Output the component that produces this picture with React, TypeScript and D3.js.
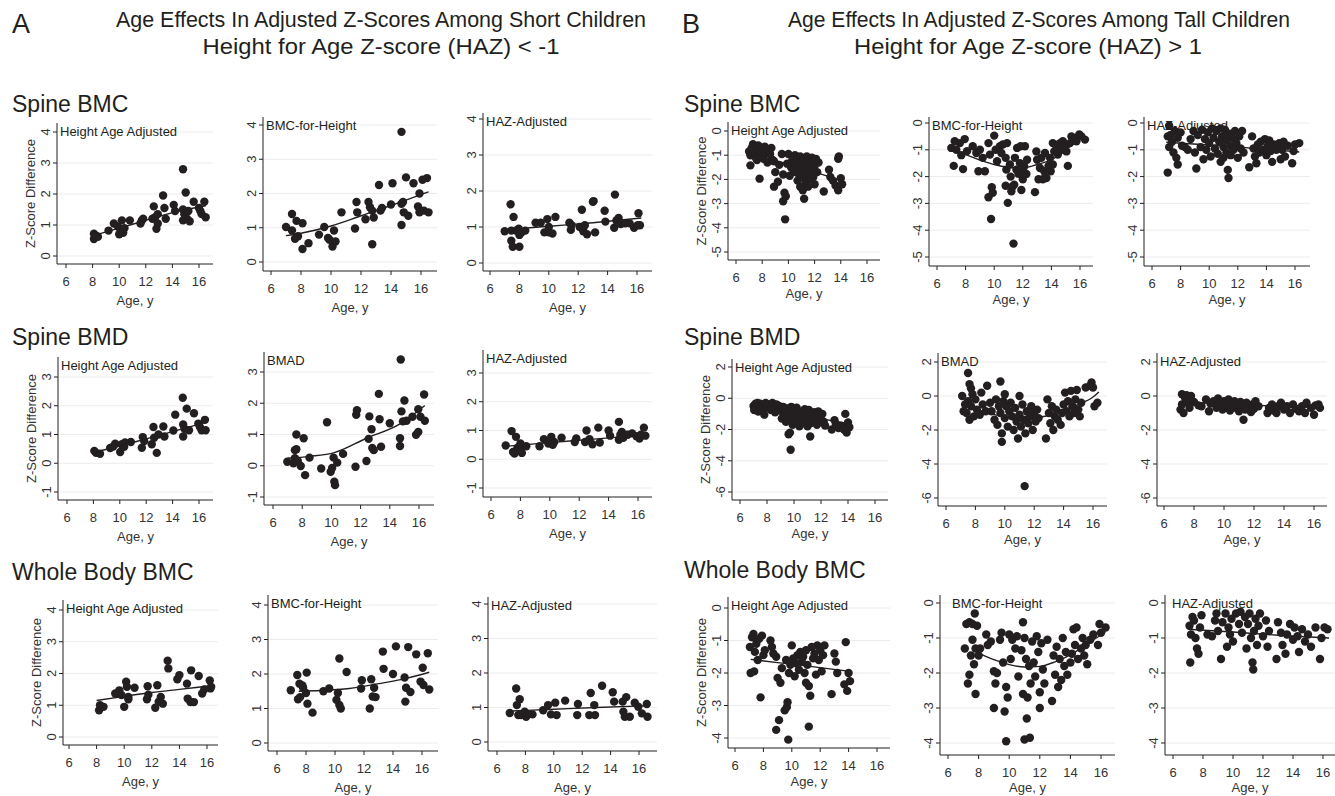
import React from 'react';
import * as d3 from 'd3';

type Pt = [number, number];

// ---------- data ----------
const xTicks = [6, 8, 10, 12, 14, 16];
const ticksShortBmc = [0, 1, 2, 3, 4];
const ticksShortBmd = [-1, 0, 1, 2, 3];
const ticksTallBmc = [-5, -4, -3, -2, -1, 0];
const ticksTallBmd = [-6, -4, -2, 0, 2];
const ticksTallWb = [-4, -3, -2, -1, 0];

const subtitles = ['Height Age Adjusted', 'BMC-for-Height', 'HAZ-Adjusted'];
const subtitlesBmd = ['Height Age Adjusted', 'BMAD', 'HAZ-Adjusted'];
const sectionNames = ['Spine BMC', 'Spine BMD', 'Whole Body BMC'];

// Short children (HAZ < -1)
const shortSpineBmcHeightAge: Pt[] = [
  [8.1, 0.55], [8.1, 0.72], [8.3, 0.65], [8.4, 0.62], [9.2, 0.82], [9.6, 1.05], [9.9, 0.95], [10.0, 0.7],
  [10.1, 0.85], [10.2, 1.15], [10.3, 0.75], [10.4, 0.9], [10.8, 1.15], [11.6, 1.05], [11.7, 1.15], [11.8, 1.2],
  [12.5, 1.2], [12.6, 1.6], [12.7, 1.25], [12.8, 0.88], [12.9, 1.05], [12.9, 1.35], [13.3, 1.95], [13.4, 1.55],
  [13.5, 1.2], [14.1, 1.65], [14.2, 1.45], [14.8, 2.8], [14.8, 1.5], [14.8, 1.15], [14.9, 1.35], [15.0, 2.05],
  [15.1, 1.2], [15.2, 1.45], [15.3, 1.12], [15.6, 1.75], [16.0, 1.55], [16.1, 1.45], [16.2, 1.35], [16.4, 1.75],
  [16.5, 1.25],
];
const shortSpineBmcForHeight: Pt[] = [
  [7.0, 1.02], [7.4, 1.4], [7.4, 0.92], [7.6, 0.68], [7.7, 1.2], [7.8, 0.75], [8.1, 1.13], [8.1, 0.38],
  [8.5, 0.55], [9.2, 0.8], [9.55, 1.02], [9.8, 0.7], [9.9, 0.65], [10.1, 0.45], [10.2, 0.92], [10.3, 0.6],
  [10.7, 1.45], [11.6, 0.98], [11.7, 1.75], [11.75, 1.45], [12.3, 1.25], [12.5, 1.75], [12.6, 1.6], [12.75, 1.5],
  [12.75, 0.52], [12.85, 1.3], [13.2, 2.25], [13.3, 1.5], [13.4, 1.58], [14.0, 1.68], [14.1, 2.3], [14.7, 3.8],
  [14.7, 1.7], [14.7, 1.08], [14.8, 1.75], [14.85, 1.45], [15.0, 2.47], [15.15, 1.35], [15.5, 2.3], [15.8, 1.62],
  [15.9, 2.0], [15.9, 1.45], [16.1, 2.4], [16.2, 1.5], [16.4, 2.45], [16.5, 1.45],
];
const shortSpineBmcHaz: Pt[] = [
  [7.0, 0.88], [7.4, 1.63], [7.45, 0.9], [7.45, 0.62], [7.55, 0.45], [7.6, 1.28], [7.75, 0.9], [7.95, 0.95],
  [8.0, 0.78], [8.0, 0.45], [8.15, 0.85], [8.4, 0.9], [9.1, 1.12], [9.45, 1.12], [9.7, 0.85], [9.9, 1.22],
  [10.0, 1.0], [10.0, 0.85], [10.25, 0.82], [10.45, 1.28], [11.4, 1.12], [11.5, 0.92], [11.55, 1.05], [12.1, 1.0],
  [12.25, 1.48], [12.35, 0.88], [12.45, 1.05], [12.6, 0.8], [13.0, 1.7], [13.05, 1.72], [13.15, 0.85], [13.8, 1.45],
  [13.85, 1.15], [14.45, 0.98], [14.5, 1.9], [14.6, 1.18], [14.75, 1.25], [14.9, 1.08], [15.2, 1.1], [15.5, 1.1],
  [15.8, 0.98], [16.05, 1.05], [16.1, 1.38], [16.2, 1.05],
];
const shortSpineBmdHeightAge: Pt[] = [
  [8.07, 0.43], [8.2, 0.36], [8.5, 0.33], [9.27, 0.53], [9.5, 0.58], [9.65, 0.68], [10.03, 0.39], [10.15, 0.66],
  [10.33, 0.57], [10.4, 0.72], [10.84, 0.74], [11.67, 0.54], [11.74, 0.91], [11.85, 0.77], [12.42, 0.66], [12.55, 1.26],
  [12.6, 0.89], [12.8, 0.36], [12.93, 1.0], [13.3, 1.28], [13.38, 0.93], [14.06, 1.14], [14.2, 1.69], [14.77, 2.28],
  [14.8, 1.35], [14.8, 0.93], [14.9, 1.2], [15.07, 1.9], [15.24, 1.15], [15.62, 1.74], [15.95, 1.38], [16.07, 1.26],
  [16.2, 1.15], [16.45, 1.51], [16.5, 1.15],
];
const shortSpineBmad: Pt[] = [
  [6.98, 0.13], [7.4, 0.08], [7.5, 0.5], [7.5, 0.24], [7.6, 0.53], [7.6, 1.0], [7.7, 0.15], [7.9, -0.01],
  [8.1, 0.88], [8.2, -0.3], [8.5, 0.26], [9.3, -0.09], [9.7, 1.39], [9.95, -0.19], [10.05, -0.07], [10.15, 0.26],
  [10.2, -0.51], [10.25, -0.62], [10.4, 0.1], [10.8, 0.38], [11.65, -0.03], [11.7, 1.63], [11.75, 1.78], [12.4, 0.15],
  [12.55, 0.86], [12.6, 1.58], [12.75, 1.17], [12.8, 0.57], [12.9, 0.5], [13.25, 2.3], [13.3, 1.49], [13.4, 0.61],
  [14.0, 1.36], [14.7, 0.88], [14.7, 0.63], [14.75, 3.4], [14.8, 1.74], [14.9, 1.42], [15.0, 2.09], [15.15, 1.44],
  [15.55, 1.57], [15.8, 0.99], [15.95, 1.08], [15.95, 1.81], [16.1, 1.57], [16.35, 2.28], [16.4, 1.44],
];
const shortSpineBmdHaz: Pt[] = [
  [7.0, 0.48], [7.4, 0.98], [7.5, 0.25], [7.6, 0.2], [7.7, 0.78], [7.8, 0.4], [8.0, 0.55], [8.1, 0.45],
  [8.1, 0.22], [8.4, 0.45], [9.3, 0.45], [9.6, 0.7], [9.9, 0.55], [10.1, 0.78], [10.2, 0.5], [10.3, 0.6],
  [10.8, 0.75], [11.7, 0.6], [11.8, 0.72], [12.4, 0.6], [12.5, 1.0], [12.7, 0.7], [12.9, 0.52], [13.3, 1.1],
  [13.4, 0.58], [14.0, 1.0], [14.1, 0.82], [14.7, 1.3], [14.7, 0.68], [14.8, 0.85], [14.9, 0.95], [15.0, 0.75],
  [15.3, 0.85], [15.6, 0.9], [15.9, 0.8], [16.1, 0.72], [16.2, 0.85], [16.4, 1.1], [16.5, 0.82],
];
const shortWholeBodyHeightAge: Pt[] = [
  [8.18, 0.84], [8.25, 1.0], [8.5, 0.95], [9.35, 1.37], [9.65, 1.47], [9.8, 1.32], [10.0, 0.95], [10.14, 1.74],
  [10.2, 1.58], [10.3, 1.19], [10.3, 1.26], [10.75, 1.55], [11.65, 1.19], [11.7, 1.6], [11.75, 1.33], [12.25, 0.92],
  [12.4, 1.63], [12.5, 1.11], [12.65, 1.26], [12.8, 1.05], [13.15, 2.4], [13.2, 2.16], [13.85, 1.82], [14.0, 1.95],
  [14.55, 1.68], [14.6, 1.21], [14.8, 1.1], [14.85, 2.1], [15.05, 1.1], [15.4, 1.92], [15.65, 1.37], [15.8, 1.5],
  [16.2, 1.78], [16.25, 1.53], [16.3, 1.58],
];
const shortWholeBodyForHeight: Pt[] = [
  [6.95, 1.53], [7.4, 1.97], [7.45, 1.27], [7.55, 1.72], [7.6, 1.33], [7.75, 1.67], [7.8, 1.6], [8.05, 2.04],
  [8.0, 1.45], [8.1, 1.14], [8.45, 0.88], [9.2, 1.5], [9.6, 1.58], [10.1, 1.25], [10.2, 1.45], [10.3, 1.1],
  [10.4, 1.0], [10.3, 2.45], [10.8, 2.06], [11.8, 1.58], [11.85, 1.82], [12.4, 1.0], [12.5, 1.85], [12.6, 1.35],
  [12.7, 1.6], [12.8, 1.33], [13.3, 2.65], [13.35, 2.15], [14.0, 2.0], [14.2, 2.8], [14.8, 1.9], [14.85, 1.2],
  [14.9, 1.6], [15.05, 2.78], [15.2, 1.48], [15.6, 2.57], [15.9, 1.78], [16.05, 2.18], [16.1, 1.68], [16.4, 2.6],
  [16.5, 1.55],
];
const shortWholeBodyHaz: Pt[] = [
  [6.9, 0.84], [7.35, 1.55], [7.4, 1.07], [7.5, 0.78], [7.6, 1.24], [7.7, 0.78], [7.95, 0.88], [8.05, 0.73],
  [8.2, 0.8], [8.5, 0.8], [9.25, 0.92], [9.6, 1.07], [9.8, 0.8], [10.1, 1.14], [10.2, 0.78], [10.8, 1.2],
  [11.65, 0.78], [11.7, 1.1], [12.5, 0.78], [12.6, 1.42], [12.85, 1.07], [12.9, 0.78], [13.4, 1.63], [14.15, 1.44],
  [14.25, 1.17], [14.85, 1.17], [14.9, 0.88], [15.0, 0.73], [15.1, 1.3], [15.35, 0.73], [15.7, 1.14], [15.95, 1.02],
  [16.2, 0.83], [16.55, 1.1], [16.6, 0.73],
];

// Tall children (HAZ > 1)
const tallSpineBmcHeightAge: Pt[] = [
  [7.0, -0.85], [7.1, -1.0], [7.1, -1.42], [7.2, -0.7], [7.3, -0.55], [7.3, -0.9], [7.4, -0.65], [7.5, -1.1],
  [7.6, -0.75], [7.6, -1.2], [7.7, -0.6], [7.8, -0.85], [7.8, -1.97], [7.9, -1.05], [8.0, -0.7], [8.1, -1.15],
  [8.2, -0.65], [8.3, -0.9], [8.4, -1.3], [8.5, -0.75], [8.6, -0.95], [8.7, -0.7], [8.8, -1.2], [8.9, -1.25],
  [9.0, -1.7], [8.9, -2.3], [9.2, -2.1], [9.3, -1.4], [9.5, -0.95], [9.6, -2.9], [9.6, -1.8], [9.7, -2.55],
  [9.8, -2.7], [9.75, -3.65], [9.9, -1.35], [10.0, -0.95], [10.1, -1.85], [10.2, -1.5], [10.3, -1.2], [10.4, -1.7],
  [10.5, -1.35], [10.5, -1.0], [10.6, -1.55], [10.7, -2.05], [10.7, -1.2], [10.8, -1.8], [10.8, -1.4], [10.9, -2.3],
  [10.9, -1.05], [11.0, -1.6], [11.0, -1.9], [11.1, -2.45], [11.1, -1.25], [11.2, -2.8], [11.2, -1.7], [11.3, -2.15],
  [11.3, -1.4], [11.4, -1.05], [11.4, -1.95], [11.5, -1.55], [11.5, -2.3], [11.6, -1.2], [11.6, -1.75], [11.7, -1.35],
  [11.7, -2.0], [11.8, -1.1], [11.8, -1.6], [11.9, -1.25], [11.9, -1.9], [12.0, -1.45], [12.0, -2.2], [12.1, -1.15],
  [12.2, -1.7], [12.3, -1.3], [12.7, -2.5], [13.1, -1.6], [13.2, -1.9], [13.4, -2.05], [13.6, -2.25], [13.8, -2.45],
  [13.8, -1.15], [13.85, -1.05], [14.0, -1.95], [14.1, -2.2],
];
const tallSpineBmcForHeight: Pt[] = [
  [7.0, -0.93], [7.24, -0.68], [7.35, -1.0], [7.17, -1.6], [7.6, -0.75], [7.7, -1.2], [7.82, -1.72], [7.94, -0.6],
  [8.1, -1.05], [8.5, -0.87], [8.75, -1.12], [9.0, -1.0], [8.9, -1.8], [9.35, -1.8], [9.2, -1.3], [9.6, -0.75],
  [9.7, -1.18], [9.6, -2.77], [9.83, -2.4], [9.9, -2.6], [9.78, -3.58], [10.0, -0.47], [10.1, -1.0], [10.2, -1.43],
  [10.4, -0.87], [10.5, -1.12], [10.6, -0.8], [10.8, -1.3], [10.85, -1.74], [10.8, -2.34], [10.9, -0.75], [10.95, -2.98],
  [11.1, -1.55], [11.15, -2.0], [11.2, -2.55], [11.3, -2.36], [11.35, -4.5], [11.4, -2.3], [11.45, -1.3], [11.55, -1.74],
  [11.6, -0.93], [11.7, -1.9], [11.8, -1.5], [11.85, -0.87], [11.9, -2.5], [11.95, -1.8], [12.0, -2.1], [12.1, -1.62],
  [12.15, -0.87], [12.25, -1.9], [12.3, -1.37], [12.85, -2.58], [12.95, -1.06], [13.0, -1.37], [13.1, -2.1], [13.2, -1.68],
  [13.3, -1.3], [13.4, -2.1], [13.5, -1.8], [13.55, -1.12], [13.65, -2.05], [13.8, -1.6], [13.9, -1.3], [13.95, -1.8],
  [14.1, -1.55], [14.1, -0.75], [14.2, -1.06], [14.35, -0.87], [14.45, -1.18], [14.6, -0.75], [14.7, -1.0], [14.8, -0.68],
  [14.9, -0.87], [15.05, -1.06], [15.15, -1.6], [15.3, -0.75], [15.4, -0.5], [15.65, -0.56], [15.75, -0.68], [15.95, -0.43],
  [16.1, -0.5], [16.35, -0.62],
];
const tallSpineBmcHaz: Pt[] = [
  [7.1, -0.5], [7.2, -0.1], [7.2, -0.9], [7.1, -1.85], [7.3, -0.45], [7.4, -0.7], [7.5, -1.1], [7.6, -0.3],
  [7.7, -1.3], [7.8, -0.55], [7.8, -1.55], [8.0, -0.35], [8.1, -0.85], [8.3, -0.9], [8.5, -1.0], [8.7, -0.6],
  [8.9, -0.3], [9.0, -1.1], [9.1, -1.7], [9.2, -0.45], [9.4, -0.9], [9.5, -0.25], [9.6, -1.35], [9.7, -0.6],
  [9.8, -1.0], [9.9, -0.35], [10.0, -0.75], [10.1, -1.25], [10.2, -0.2], [10.3, -0.55], [10.4, -0.95], [10.5, -0.3],
  [10.6, -1.15], [10.7, -0.7], [10.8, -0.2], [10.8, -1.45], [10.9, -0.5], [11.0, -0.9], [11.0, -1.3], [11.1, -0.25],
  [11.2, -0.65], [11.2, -1.1], [11.3, -1.75], [11.35, -2.05], [11.4, -0.4], [11.5, -0.85], [11.5, -1.2], [11.6, -0.55],
  [11.7, -1.0], [11.8, -0.3], [11.9, -0.75], [12.0, -1.3], [12.1, -0.5], [12.2, -0.95], [12.3, -0.3], [12.4, -1.1],
  [12.8, -1.65], [13.0, -0.5], [13.1, -0.95], [13.2, -1.25], [13.3, -1.5], [13.4, -0.8], [13.5, -1.1], [13.6, -0.7],
  [13.8, -1.0], [13.9, -0.6], [14.0, -1.2], [14.1, -0.85], [14.2, -0.65], [14.3, -1.05], [14.4, -1.45], [14.5, -0.8],
  [14.7, -1.0], [14.9, -0.75], [15.0, -1.35], [15.1, -1.0], [15.2, -0.7], [15.3, -1.25], [15.5, -0.85], [15.8, -1.5],
  [15.9, -1.05], [16.0, -0.8], [16.3, -0.75],
];
const tallSpineBmdHeightAge: Pt[] = [
  [7.0, -0.5], [7.05, -0.75], [7.15, -0.35], [7.2, -0.6], [7.3, -0.3], [7.35, -0.85], [7.4, -0.5], [7.5, -0.35],
  [7.6, -0.7], [7.7, -0.45], [7.8, -1.05], [7.9, -0.3], [8.0, -0.6], [8.1, -0.4], [8.3, -0.75], [8.4, -0.3],
  [8.5, -0.55], [8.6, -0.9], [8.7, -0.4], [8.9, -0.5], [9.0, -0.8], [9.1, -1.3], [9.2, -0.55], [9.3, -1.0],
  [9.4, -1.5], [9.5, -0.65], [9.6, -2.3], [9.65, -1.1], [9.7, -2.2], [9.75, -3.3], [9.8, -0.55], [9.85, -1.35],
  [9.9, -1.7], [10.0, -0.8], [10.1, -1.05], [10.2, -0.6], [10.3, -1.4], [10.4, -1.8], [10.5, -0.9], [10.6, -1.2],
  [10.7, -1.55], [10.8, -0.7], [10.9, -1.0], [11.0, -1.8], [11.0, -1.3], [11.1, -0.75], [11.2, -2.45], [11.2, -1.6],
  [11.3, -1.1], [11.4, -1.45], [11.5, -0.9], [11.6, -1.25], [11.7, -1.7], [11.8, -0.85], [11.9, -1.1], [12.0, -1.35],
  [12.1, -1.0], [12.2, -1.5], [12.3, -1.75], [12.8, -2.0], [13.0, -1.4], [13.1, -1.65], [13.3, -1.9], [13.5, -1.75],
  [13.7, -2.0], [13.8, -1.0], [13.9, -2.2], [14.0, -1.55], [14.1, -1.85],
];
const tallSpineBmad: Pt[] = [
  [7.1, 0.0], [7.2, -0.9], [7.3, -0.5], [7.4, -1.0], [7.5, 1.35], [7.5, -0.3], [7.6, 0.7], [7.6, -1.4],
  [7.7, 0.45], [7.7, -0.6], [7.8, 0.1], [7.9, -1.2], [8.0, -0.2], [8.1, -0.8], [8.3, -1.1], [8.4, 0.2],
  [8.5, -0.5], [8.7, -0.9], [8.8, 0.6], [9.0, -0.4], [9.1, -0.9], [9.3, -1.4], [9.4, -0.2], [9.5, -1.7],
  [9.6, -0.6], [9.7, 0.85], [9.7, -1.0], [9.8, -2.2], [9.8, -2.7], [9.9, -0.3], [10.0, 0.1], [10.0, -1.3],
  [10.1, -0.6], [10.2, -1.8], [10.3, -0.9], [10.4, -0.4], [10.5, -1.2], [10.6, -2.0], [10.7, -0.7], [10.8, -1.5],
  [10.9, -2.5], [11.0, 0.0], [11.0, -1.1], [11.1, -1.8], [11.2, -0.5], [11.3, -1.4], [11.35, -5.3], [11.4, -2.2],
  [11.5, -0.9], [11.6, -1.6], [11.7, -1.2], [11.8, -0.6], [11.9, -2.0], [12.0, -1.0], [12.1, -1.5], [12.2, -0.8],
  [12.3, -1.3], [12.8, -2.5], [12.9, -0.2], [13.0, -1.0], [13.1, -1.6], [13.2, -0.6], [13.3, -2.0], [13.4, -1.2],
  [13.5, -0.8], [13.6, -1.4], [13.8, -1.7], [13.9, -1.0], [14.0, -0.5], [14.1, 0.2], [14.2, -0.9], [14.3, -0.3],
  [14.4, -1.2], [14.5, 0.3], [14.6, -0.6], [14.7, -1.0], [14.8, -0.2], [14.9, 0.35], [15.0, -0.8], [15.1, -1.2],
  [15.2, -0.4], [15.5, 0.5], [15.8, 0.6], [15.9, 0.8], [16.0, 0.5], [16.1, -0.6], [16.3, -0.4],
];
const tallSpineBmdHaz: Pt[] = [
  [7.1, -0.8], [7.2, 0.1], [7.2, -0.5], [7.3, -1.0], [7.4, -0.1], [7.5, 0.05], [7.6, -0.4], [7.7, -0.7],
  [7.8, 0.0], [8.0, -0.35], [8.3, -0.55], [8.5, -0.6], [8.8, -0.2], [9.0, -0.9], [9.1, -0.45], [9.3, -0.3],
  [9.5, -0.7], [9.6, -0.15], [9.8, -0.5], [9.9, -0.8], [10.0, -0.3], [10.2, -0.6], [10.3, -0.2], [10.4, -0.85],
  [10.5, -0.45], [10.7, -0.3], [10.8, -0.7], [10.9, -0.5], [11.0, -0.9], [11.1, -0.35], [11.2, -0.6], [11.3, -1.4],
  [11.4, -0.8], [11.5, -0.4], [11.6, -0.65], [11.8, -0.95], [11.9, -0.5], [12.0, -0.75], [12.1, -0.3], [12.3, -0.6],
  [12.9, -1.0], [13.0, -0.7], [13.2, -0.5], [13.3, -0.85], [13.5, -1.0], [13.6, -0.6], [13.8, -0.4], [14.0, -0.8],
  [14.2, -0.6], [14.4, -1.0], [14.6, -0.5], [14.8, -0.75], [15.0, -0.9], [15.2, -0.6], [15.4, -1.0], [15.5, -0.4],
  [15.8, -0.7], [16.0, -1.1], [16.1, -0.55], [16.3, -0.5], [16.4, -0.7],
];
const tallWholeBodyHeightAge: Pt[] = [
  [7.05, -1.2], [7.1, -2.0], [7.2, -0.9], [7.3, -0.8], [7.35, -1.95], [7.4, -1.35], [7.5, -1.1], [7.6, -1.6],
  [7.7, -0.95], [7.8, -2.75], [7.9, -0.85], [8.0, -1.45], [8.1, -1.3], [8.5, -1.0], [8.6, -1.2], [8.7, -1.4],
  [8.9, -1.5], [8.9, -3.75], [9.0, -2.15], [9.1, -3.45], [9.2, -2.3], [9.3, -1.85], [9.5, -3.15], [9.6, -1.6],
  [9.65, -3.05], [9.7, -2.9], [9.75, -4.05], [9.8, -2.0], [9.9, -1.75], [10.0, -1.15], [10.1, -1.55], [10.2, -2.1],
  [10.3, -1.7], [10.4, -1.45], [10.5, -1.9], [10.6, -1.35], [10.7, -1.65], [10.8, -1.5], [10.9, -2.0], [11.0, -1.3],
  [11.0, -2.3], [11.1, -1.75], [11.2, -2.4], [11.2, -3.65], [11.3, -2.7], [11.4, -1.2], [11.5, -1.55], [11.6, -1.4],
  [11.7, -2.05], [11.8, -1.15], [11.9, -1.6], [12.0, -1.3], [12.1, -1.95], [12.2, -1.45], [12.3, -1.15], [12.8, -2.65],
  [13.0, -1.4], [13.1, -1.65], [13.2, -2.0], [13.7, -2.35], [13.8, -1.05], [13.9, -2.55], [14.0, -2.0], [14.1, -2.25],
];
const tallWholeBodyForHeight: Pt[] = [
  [7.1, -1.3], [7.2, -0.6], [7.3, -2.3], [7.4, -0.55], [7.4, -2.05], [7.5, -1.5], [7.6, -1.05], [7.6, -0.6],
  [7.7, -1.75], [7.75, -0.3], [7.8, -1.3], [7.8, -2.6], [7.9, -0.65], [8.0, -1.5], [8.1, -1.3], [8.5, -0.9],
  [8.6, -1.2], [8.8, -1.1], [9.0, -1.95], [9.0, -3.0], [9.1, -2.3], [9.2, -2.0], [9.4, -1.05], [9.5, -0.85],
  [9.6, -1.7], [9.7, -3.1], [9.8, -2.4], [9.8, -3.95], [9.9, -2.7], [10.0, -0.9], [10.1, -1.6], [10.2, -1.05],
  [10.4, -1.3], [10.5, -0.95], [10.6, -2.1], [10.8, -1.35], [10.9, -0.55], [10.9, -2.6], [11.0, -1.0], [11.0, -3.9],
  [11.1, -1.6], [11.15, -3.3], [11.2, -2.7], [11.3, -1.8], [11.35, -3.85], [11.4, -2.3], [11.5, -1.1], [11.6, -1.7],
  [11.7, -2.1], [11.8, -0.95], [11.9, -1.4], [12.0, -3.0], [12.0, -2.55], [12.1, -1.15], [12.2, -1.9], [12.3, -2.3],
  [12.5, -1.05], [12.8, -2.8], [12.9, -1.5], [13.0, -2.05], [13.1, -1.25], [13.2, -2.4], [13.3, -1.6], [13.4, -2.2],
  [13.5, -1.0], [13.6, -1.8], [13.7, -1.4], [13.8, -2.05], [14.0, -1.7], [14.1, -1.45], [14.2, -0.75], [14.3, -1.2],
  [14.4, -0.7], [14.5, -1.6], [14.7, -1.3], [14.8, -1.0], [14.9, -1.5], [15.0, -1.2], [15.1, -1.75], [15.3, -1.05],
  [15.5, -0.9], [15.8, -1.2], [15.9, -0.6], [16.0, -0.85], [16.3, -0.7],
];
const tallWholeBodyHaz: Pt[] = [
  [7.1, -0.65], [7.15, -1.7], [7.2, -0.9], [7.3, -0.4], [7.4, -0.5], [7.5, -1.0], [7.6, -1.3], [7.7, -1.45],
  [7.8, -0.7], [7.9, -0.35], [8.3, -0.9], [8.6, -0.95], [8.8, -0.5], [8.9, -0.3], [9.0, -0.8], [9.2, -1.6],
  [9.3, -0.55], [9.5, -0.3], [9.6, -1.25], [9.7, -0.7], [9.8, -0.9], [9.9, -0.45], [10.0, -1.1], [10.2, -0.3],
  [10.4, -0.6], [10.5, -0.25], [10.6, -0.85], [10.8, -0.4], [10.9, -1.3], [11.0, -0.6], [11.1, -0.3], [11.2, -1.0],
  [11.3, -1.7], [11.35, -1.9], [11.4, -0.8], [11.5, -0.45], [11.6, -1.2], [11.7, -0.65], [11.8, -0.3], [12.0, -0.95],
  [12.2, -0.5], [12.3, -1.25], [12.4, -0.8], [12.9, -1.6], [13.0, -0.55], [13.2, -0.85], [13.3, -1.2], [13.5, -1.45],
  [13.6, -0.9], [13.8, -0.6], [14.0, -1.05], [14.1, -0.7], [14.3, -0.95], [14.4, -1.4], [14.6, -0.75], [14.8, -1.1],
  [15.0, -0.9], [15.2, -1.25], [15.5, -0.7], [15.8, -1.6], [15.9, -1.0], [16.1, -0.7], [16.3, -0.75],
];

// fitted curves, sampled along the drawn line
const fitShort: Pt[][] = [
  [[8.0, 0.65], [10, 0.9], [12, 1.15], [14, 1.4], [16.5, 1.62]],
  [[7.0, 0.77], [8, 0.84], [10, 1.05], [12, 1.35], [14, 1.65], [16.5, 2.05]],
  [[7.0, 0.92], [10, 1.02], [13, 1.12], [16.3, 1.25]],
  [[8.0, 0.38], [10, 0.6], [12, 0.85], [14, 1.1], [16.5, 1.42]],
  [[7.0, 0.24], [8.5, 0.3], [10.2, 0.42], [12.4, 0.88], [14.7, 1.34], [16.4, 1.93]],
  [[7.0, 0.45], [10, 0.58], [13, 0.7], [16.5, 0.85]],
  [[8.0, 1.15], [10, 1.28], [12, 1.4], [14, 1.5], [16.4, 1.62]],
  [[7.5, 1.5], [9, 1.52], [11, 1.58], [13, 1.72], [15, 1.88], [16.5, 2.05]],
  [[7.0, 0.9], [10, 0.95], [13, 1.0], [16.5, 1.05]],
];
const fitTall: Pt[][] = [
  [[7.0, -0.9], [9, -1.22], [11, -1.55], [12.5, -1.78], [14.1, -2.05]],
  [[7.0, -1.0], [8, -1.18], [9, -1.38], [10, -1.55], [11, -1.65], [12, -1.68], [13, -1.55], [14, -1.37], [15, -1.0], [16.2, -0.5]],
  [[7.0, -0.72], [10, -0.82], [13, -0.94], [16.3, -1.08]],
  [[7.0, -0.45], [10, -0.95], [12, -1.3], [14.1, -1.65]],
  [[7.4, -0.45], [8, -0.75], [9, -1.02], [10, -1.23], [11, -1.3], [12, -1.27], [13, -1.15], [14, -0.84], [15, -0.5], [16, -0.06], [16.4, 0.24]],
  [[7.0, -0.35], [10, -0.46], [13, -0.58], [16.4, -0.7]],
  [[7.1, -1.58], [9, -1.68], [11, -1.78], [14.1, -1.95]],
  [[8.0, -1.43], [9, -1.62], [10, -1.76], [11, -1.83], [12, -1.81], [13, -1.68], [14, -1.48], [15, -1.2], [16.3, -0.82]],
  [[7.0, -0.75], [10, -0.83], [13, -0.92], [16.4, -1.0]],
];

// ---------- layout (pixel boxes of each plot region) ----------
interface Box {
  L: number; R: number; T: number; B: number;
  p6: number; p16: number;
  ya: [number, number]; yb: [number, number];
  sub?: number;
}
const boxesShort: Box[] = [
  { L: 57, R: 213, T: 123, B: 264, p6: 66, p16: 199, ya: [4, 132], yb: [0, 256] },
  { L: 263, R: 437, T: 117, B: 271, p6: 271, p16: 421, ya: [4, 125], yb: [0, 262] },
  { L: 483, R: 652, T: 113, B: 271, p6: 490, p16: 637, ya: [4, 119], yb: [0, 263] },
  { L: 58, R: 213, T: 357, B: 500, p6: 67, p16: 199, ya: [3, 377], yb: [-1, 492] },
  { L: 264, R: 434, T: 352, B: 505, p6: 273, p16: 419, ya: [3, 372], yb: [-1, 497] },
  { L: 483, R: 652, T: 350, B: 497, p6: 491, p16: 638, ya: [3, 373], yb: [-1, 488] },
  { L: 63, R: 218, T: 600, B: 745, p6: 69, p16: 207, ya: [4, 610], yb: [0, 737] },
  { L: 268, R: 438, T: 595, B: 751, p6: 277, p16: 422, ya: [4, 605], yb: [0, 743] },
  { L: 488, R: 657, T: 597, B: 751, p6: 497, p16: 639, ya: [4, 604], yb: [0, 742] },
];
const boxesTall: Box[] = [
  { L: 728, R: 880, T: 122, B: 260, p6: 736, p16: 867, ya: [0, 131], yb: [-5, 252] },
  { L: 929, R: 1093, T: 117, B: 266, p6: 937, p16: 1080, ya: [0, 123], yb: [-5, 257] },
  { L: 1144, R: 1310, T: 117, B: 266, p6: 1152, p16: 1295, ya: [0, 123], yb: [-5, 257] },
  { L: 732, R: 888, T: 359, B: 500, p6: 740, p16: 875, ya: [2, 367], yb: [-6, 492] },
  { L: 938, R: 1107, T: 353, B: 506, p6: 946, p16: 1093, ya: [2, 362], yb: [-6, 498] },
  { L: 1157, R: 1327, T: 353, B: 506, p6: 1164, p16: 1314, ya: [2, 362], yb: [-6, 498] },
  { L: 728, R: 890, T: 597, B: 748, p6: 735, p16: 877, ya: [0, 608], yb: [-4, 738] },
  { L: 940, R: 1115, T: 595, B: 755, p6: 948, p16: 1101, ya: [0, 603], yb: [-4, 743], sub: 12 },
  { L: 1165, R: 1335, T: 595, B: 755, p6: 1173, p16: 1323, ya: [0, 603], yb: [-4, 743], sub: 7 },
];

const INK = '#231f20';
const TXT = '#333';
const FONT = "'Liberation Sans', Arial, Helvetica, sans-serif";

interface PanelSpec {
  id: string;
  sub: string;
  points: Pt[];
  fit: Pt[];
  yTicks: number[];
  yTitle: boolean;
  ageGap: number;
  box: Box;
}

const shortPoints = [
  shortSpineBmcHeightAge, shortSpineBmcForHeight, shortSpineBmcHaz,
  shortSpineBmdHeightAge, shortSpineBmad, shortSpineBmdHaz,
  shortWholeBodyHeightAge, shortWholeBodyForHeight, shortWholeBodyHaz,
];
const tallPoints = [
  tallSpineBmcHeightAge, tallSpineBmcForHeight, tallSpineBmcHaz,
  tallSpineBmdHeightAge, tallSpineBmad, tallSpineBmdHaz,
  tallWholeBodyHeightAge, tallWholeBodyForHeight, tallWholeBodyHaz,
];
const shortTicks = [ticksShortBmc, ticksShortBmd, ticksShortBmc];
const tallTicks = [ticksTallBmc, ticksTallBmd, ticksTallWb];

const buildPanels = (side: string, pts: Pt[][], fits: Pt[][], boxes: Box[], ticks: number[][], ageGap: number): PanelSpec[] =>
  pts.map((p, i) => {
    const row = Math.floor(i / 3);
    const col = i % 3;
    return {
      id: `${side}-${i}`,
      sub: (row === 1 ? subtitlesBmd : subtitles)[col],
      points: p,
      fit: fits[i],
      yTicks: ticks[row],
      yTitle: col === 0,
      ageGap,
      box: boxes[i],
    };
  });

const panels = [
  ...buildPanels('short', shortPoints, fitShort, boxesShort, shortTicks, 41),
  ...buildPanels('tall', tallPoints, fitTall, boxesTall, tallTicks, 38),
];

const ScatterPanel: React.FC<{ p: PanelSpec }> = ({ p }) => {
  const { L, R, T, B, p6, p16, ya, yb } = p.box;
  const x = d3.scaleLinear().domain([6, 16]).range([p6, p16]);
  const y = d3.scaleLinear().domain([ya[0], yb[0]]).range([ya[1], yb[1]]);
  const line = d3.line<Pt>().x(d => x(d[0])).y(d => y(d[1])).curve(d3.curveMonotoneX);
  const ageY = Math.min(B + p.ageGap, 792);
  return (
    <g>
      {p.yTicks.map(t => (
        <line key={`g${t}`} x1={L + 1} x2={R} y1={y(t)} y2={y(t)} stroke="#ececec" strokeWidth={1} />
      ))}
      <line x1={L} x2={L} y1={T} y2={B} stroke={INK} strokeWidth={1} />
      <line x1={L} x2={R} y1={B} y2={B} stroke={INK} strokeWidth={1} />
      {p.yTicks.map(t => (
        <g key={`y${t}`}>
          <line x1={L - 4} x2={L} y1={y(t)} y2={y(t)} stroke={INK} />
          <text transform={`translate(${L - 7},${y(t)}) rotate(-90)`} textAnchor="middle" fontSize={13} fill={TXT}>
            {String(t)}
          </text>
        </g>
      ))}
      {xTicks.map(t => (
        <g key={`x${t}`}>
          <line x1={x(t)} x2={x(t)} y1={B} y2={B + 4} stroke={INK} />
          <text x={x(t)} y={B + 22} textAnchor="middle" fontSize={13} fill={TXT}>{t}</text>
        </g>
      ))}
      <text x={(L + R) / 2} y={ageY} textAnchor="middle" fontSize={13} fill={TXT}>Age, y</text>
      {p.yTitle && (
        <text transform={`translate(${L - 22},${(T + B) / 2}) rotate(-90)`} textAnchor="middle" fontSize={13} fill={TXT}>
          Z-Score Difference
        </text>
      )}
      <text x={L + (p.box.sub ?? 3)} y={T + 13} fontSize={13} fill={INK}>{p.sub}</text>
      {p.points.map((d, i) => (
        <circle key={i} cx={x(d[0])} cy={y(d[1])} r={4.2} fill={INK} />
      ))}
      <path d={line(p.fit) ?? ''} fill="none" stroke={INK} strokeWidth={1.4} />
    </g>
  );
};

const App: React.FC = () => {
  const sectionY = [112, 345, 580];
  return (
    <svg width={1335} height={796} style={{ position: 'absolute', left: 0, top: 0, background: '#fff' }} fontFamily={FONT}>
      <rect width={1335} height={796} fill="#fff" />
      <text x={12} y={33} fontSize={27} fill={INK}>A</text>
      <text x={682} y={33} fontSize={27} fill={INK}>B</text>
      <g fontSize={22} fill={INK} textAnchor="middle">
        <text x={381} y={27} textLength={530} lengthAdjust="spacingAndGlyphs">Age Effects In Adjusted Z-Scores Among Short Children</text>
        <text x={381} y={54} textLength={357} lengthAdjust="spacingAndGlyphs">Height for Age Z-score (HAZ) &lt; -1</text>
        <text x={1039} y={27} textLength={502} lengthAdjust="spacingAndGlyphs">Age Effects In Adjusted Z-Scores Among Tall Children</text>
        <text x={1028} y={54} textLength={348} lengthAdjust="spacingAndGlyphs">Height for Age Z-score (HAZ) &gt; 1</text>
      </g>
      {sectionNames.map((s, i) => (
        <g key={s}>
          <text x={12} y={sectionY[i]} fontSize={23} fill={INK}>{s}</text>
          <text x={684} y={sectionY[i] - (i === 2 ? 2 : 0)} fontSize={23} fill={INK}>{s}</text>
        </g>
      ))}
      {panels.map(p => <ScatterPanel key={p.id} p={p} />)}
    </svg>
  );
};

export default App;
